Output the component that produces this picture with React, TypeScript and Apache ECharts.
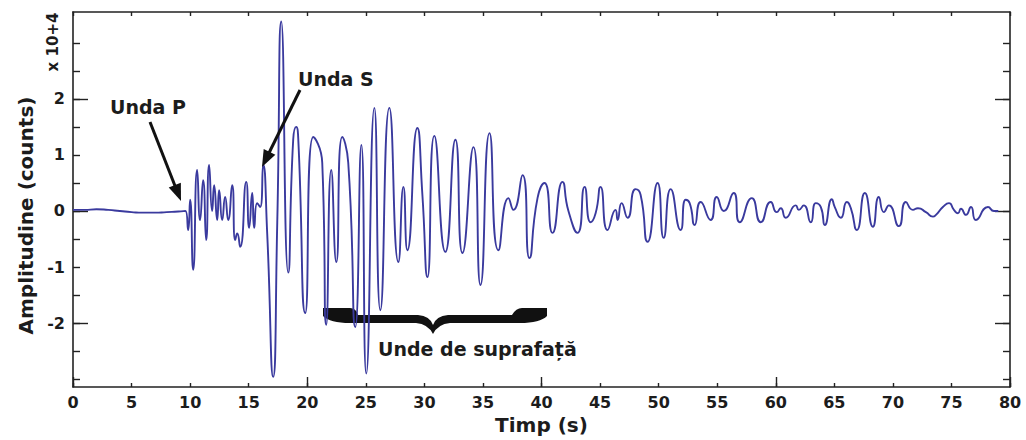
import React, { useEffect, useRef } from "react";
import * as echarts from "echarts";

// Time (s) of sampled extrema / key points of the seismogram
const timeS = [
  0, 1, 2, 3, 4, 5, 6, 7, 8, 9, 9.6,
  9.83, 10.0, 10.26, 10.6, 10.85, 11.11, 11.37, 11.62, 11.88, 12.05,
  12.31, 12.48, 12.74, 12.99, 13.25, 13.59, 13.85, 14.02, 14.27, 14.79,
  15.04, 15.3, 15.47, 15.73, 15.98, 16.24, 16.58, 17.09, 17.44, 17.78,
  18.38, 18.8, 19.06, 19.23, 19.83, 20.51, 21.28, 21.62, 22.05, 22.48,
  22.99, 23.5, 24.1, 24.62, 25.04, 25.73, 26.24, 27.01, 27.78, 28.21,
  28.55, 29.4, 29.83, 30.26, 30.85, 31.79, 32.65, 33.25, 34.19, 34.79,
  35.56, 36.32, 37.18, 37.6, 38.38, 38.97, 39.66, 40.26, 40.94, 41.79,
  42.3, 43.08, 43.68, 44.19, 44.62, 45.04, 45.64, 46.32, 46.5, 46.84,
  47.35, 48.03, 48.46, 49.06, 49.91, 50.43, 51.03, 51.88, 52.31, 52.65,
  53.08, 53.59, 54.44, 54.96, 55.56, 56.41, 56.92, 57.95, 58.72, 59.57,
  60.09, 60.43, 60.85, 61.71, 61.97, 62.39, 62.99, 63.42, 63.85, 64.19,
  64.79, 65.04, 65.56, 66.07, 66.41, 66.92, 67.61, 68.29, 68.8, 69.23,
  69.66, 70.51, 71.11, 71.71, 72.14, 72.82, 73.42, 73.68, 74.27, 74.79,
  75.21, 75.56, 75.81, 76.24, 76.67, 77.09, 78.12, 78.63, 79.0,
];

// Amplitude (x 10^4 counts)
const amplitude = [
  0.02, 0.02, 0.03, 0.02, 0.0, -0.02, -0.03, -0.03, -0.02, -0.01, 0.0,
  -0.34, 0.2, -1.05, 0.73, -0.16, 0.55, -0.52, 0.82, 0.0, 0.46,
  -0.16, 0.37, -0.16, 0.25, -0.16, 0.46, -0.52, -0.4, -0.64, 0.52,
  -0.3, 0.32, -0.3, 0.14, 0.07, 0.82, -0.4, -2.96, -0.2, 3.38,
  -1.1, 1.27, 1.5, 1.3, -1.82, 1.32, 0.86, -2.03, 0.73, -0.91,
  1.32, 0.86, -2.07, 1.18, -2.9, 1.84, -1.77, 1.84, -0.91, 0.43,
  -0.7, 1.48, 0.29, -1.18, 1.34, -0.73, 1.27, -0.75, 1.14, -1.32,
  1.39, -0.7, 0.23, 0.02, 0.64, -0.84, 0.23, 0.5, -0.39, 0.52,
  0.0, -0.39, 0.43, -0.2, -0.04, 0.43, -0.34, 0.02, -0.16, 0.14,
  -0.12, 0.39, 0.29, -0.55, 0.5, -0.48, 0.39, -0.34, 0.2, 0.14,
  -0.25, 0.16, -0.16, 0.25, 0.0, 0.32, -0.2, 0.23, -0.2, 0.16,
  -0.02, 0.05, -0.12, 0.1, 0.02, 0.1, -0.2, 0.14, 0.07, -0.25,
  0.21, 0.07, -0.12, 0.16, 0.05, -0.34, 0.32, -0.28, 0.25, -0.02,
  0.1, -0.27, 0.16, 0.02, 0.05, -0.02, -0.1, -0.07, 0.07, 0.14,
  0.02, -0.04, 0.04, -0.07, 0.07, -0.16, 0.07, 0.0, 0.0,
];

const xTickValues = [0, 5, 10, 15, 20, 25, 30, 35, 40, 45, 50, 55, 60, 65, 70, 75, 80];
const xMajorTicks = [0, 20, 40, 60, 80];
const yTickValues = [-3, -2.5, -2, -1.5, -1, -0.5, 0, 0.5, 1, 1.5, 2, 2.5, 3];
const yMajorTicks = [-2, 0, 2];
const yLabelValues = [-2, -1, 0, 1, 2];

const X_MIN = 0;
const X_MAX = 80;
const Y_MIN = -3.14;
const Y_MAX = 3.55;

const FONT = '"DejaVu Sans", "Liberation Sans", Arial, sans-serif';
const INK = "#1c1c1c";
const TRACE = "#3a3a9e";

const bracePath =
  "M323 308 L350 308 Q356 308 358 315 L418 315 Q430 316 433 325 Q436 316 448 315 L512 315 Q516 308 522 308 L547 308 L547 316 Q540 323 520 323 L450 323 Q438 324 433 334 Q428 324 416 323 L350 323 Q330 323 323 316 Z";

let braceRegistered = false;

function arrowHead(tipX: number, tipY: number, fromX: number, fromY: number, len: number, half: number) {
  const dx = tipX - fromX;
  const dy = tipY - fromY;
  const d = Math.sqrt(dx * dx + dy * dy);
  const ux = dx / d;
  const uy = dy / d;
  const bx = tipX - ux * len;
  const by = tipY - uy * len;
  const px = -uy * half;
  const py = ux * half;
  return [
    [tipX, tipY],
    [bx + px, by + py],
    [bx - px, by - py],
  ];
}

function xAxisDef(position: "top" | "bottom", ticks: number[], len: number, showLine: boolean, labels: boolean, name?: string) {
  return {
    type: "value",
    position,
    min: X_MIN,
    max: X_MAX,
    name: name || "",
    nameLocation: "middle",
    nameGap: 22,
    nameTextStyle: { fontFamily: FONT, fontWeight: "bold", fontSize: 20, color: INK },
    axisLine: { show: showLine, onZero: false, lineStyle: { color: "#222", width: 1.6 } },
    axisTick: { show: true, inside: true, length: len, customValues: ticks, lineStyle: { color: "#222", width: 1.4 } },
    axisLabel: {
      show: labels,
      customValues: xTickValues,
      margin: 7,
      fontFamily: FONT,
      fontWeight: "bold",
      fontSize: 16,
      color: INK,
    },
    splitLine: { show: false },
  };
}

function yAxisDef(position: "left" | "right", ticks: number[], len: number, showLine: boolean, labels: boolean, name?: string) {
  return {
    type: "value",
    position,
    min: Y_MIN,
    max: Y_MAX,
    name: name || "",
    nameLocation: "middle",
    nameRotate: 90,
    nameGap: 36,
    nameTextStyle: { fontFamily: FONT, fontWeight: "bold", fontSize: 20, color: INK, padding: [0, 32, 0, 0] },
    axisLine: { show: showLine, onZero: false, lineStyle: { color: "#222", width: 1.6 } },
    axisTick: { show: true, inside: true, length: len, customValues: ticks, lineStyle: { color: "#222", width: 1.4 } },
    axisLabel: {
      show: labels,
      customValues: yLabelValues,
      margin: 8,
      fontFamily: FONT,
      fontWeight: "bold",
      fontSize: 16,
      color: INK,
    },
    splitLine: { show: false },
  };
}

export default function App() {
  const ref = useRef<HTMLDivElement>(null);

  useEffect(() => {
    if (!ref.current) return;
    if (!braceRegistered) {
      echarts.graphic.registerShape("brace", echarts.graphic.extendPath(bracePath, {}));
      braceRegistered = true;
    }
    const chart = echarts.init(ref.current, undefined, { renderer: "svg" });

    const data = timeS.map((t, i) => [t, amplitude[i]]);

    const arrowP = { from: [150, 122], tip: [181, 201] };
    const arrowS = { from: [300, 90], tip: [262, 167] };

    const option: any = {
      animation: false,
      backgroundColor: "#ffffff",
      grid: { left: 73, right: 16, top: 12, bottom: 53, outerBoundsMode: "none" },
      xAxis: [
        xAxisDef("bottom", xTickValues, 4, true, true, "Timp (s)"),
        xAxisDef("bottom", xMajorTicks, 10, false, false),
        xAxisDef("top", xTickValues, 4, true, false),
      ],
      yAxis: [
        yAxisDef("left", yTickValues, 7, true, true, "Amplitudine (counts)"),
        yAxisDef("left", yMajorTicks, 15, false, false),
        yAxisDef("right", yTickValues, 7, true, false),
        yAxisDef("right", yMajorTicks, 15, false, false),
      ],
      series: [
        {
          type: "line",
          xAxisIndex: 0,
          yAxisIndex: 0,
          data,
          showSymbol: false,
          smooth: 0.6,
          z: 3,
          lineStyle: { color: TRACE, width: 1.9 },
        },
      ],
      graphic: [
        {
          type: "brace",
          x: 0,
          y: 0,
          z: 1,
          style: { fill: "#111111" },
        },
        {
          type: "line",
          z: 10,
          shape: { x1: arrowP.from[0], y1: arrowP.from[1], x2: arrowP.tip[0] - 4, y2: arrowP.tip[1] - 10 },
          style: { stroke: "#111111", lineWidth: 3 },
        },
        {
          type: "polygon",
          z: 10,
          shape: { points: arrowHead(arrowP.tip[0], arrowP.tip[1], arrowP.from[0], arrowP.from[1], 17, 6.5) },
          style: { fill: "#111111" },
        },
        {
          type: "line",
          z: 10,
          shape: { x1: arrowS.from[0], y1: arrowS.from[1], x2: arrowS.tip[0] + 4.5, y2: arrowS.tip[1] - 9 },
          style: { stroke: "#111111", lineWidth: 3 },
        },
        {
          type: "polygon",
          z: 10,
          shape: { points: arrowHead(arrowS.tip[0], arrowS.tip[1], arrowS.from[0], arrowS.from[1], 17, 6.5) },
          style: { fill: "#111111" },
        },
        {
          type: "text",
          z: 10,
          x: 110,
          y: 107,
          style: {
            text: "Unda P",
            fill: INK,
            font: 'bold 19px "DejaVu Sans", sans-serif',
            textAlign: "left",
            textVerticalAlign: "middle",
          },
        },
        {
          type: "text",
          z: 10,
          x: 298,
          y: 79,
          style: {
            text: "Unda S",
            fill: INK,
            font: 'bold 19px "DejaVu Sans", sans-serif',
            textAlign: "left",
            textVerticalAlign: "middle",
          },
        },
        {
          type: "text",
          z: 10,
          x: 378,
          y: 349,
          style: {
            text: "Unde de suprafață",
            fill: INK,
            font: 'bold 19px "DejaVu Sans", sans-serif',
            textAlign: "left",
            textVerticalAlign: "middle",
          },
        },
        {
          type: "text",
          z: 10,
          x: 53,
          y: 42,
          rotation: Math.PI / 2,
          style: {
            text: "x 10+4",
            fill: INK,
            font: 'bold 15px "DejaVu Sans", sans-serif',
            textAlign: "center",
            textVerticalAlign: "middle",
          },
        },
      ],
    };

    chart.setOption(option);
    return () => {
      chart.dispose();
    };
  }, []);

  return (
    <div
      ref={ref}
      style={{ width: 1026, height: 440, position: "absolute", left: 0, top: 0, background: "#fff" }}
    />
  );
}
